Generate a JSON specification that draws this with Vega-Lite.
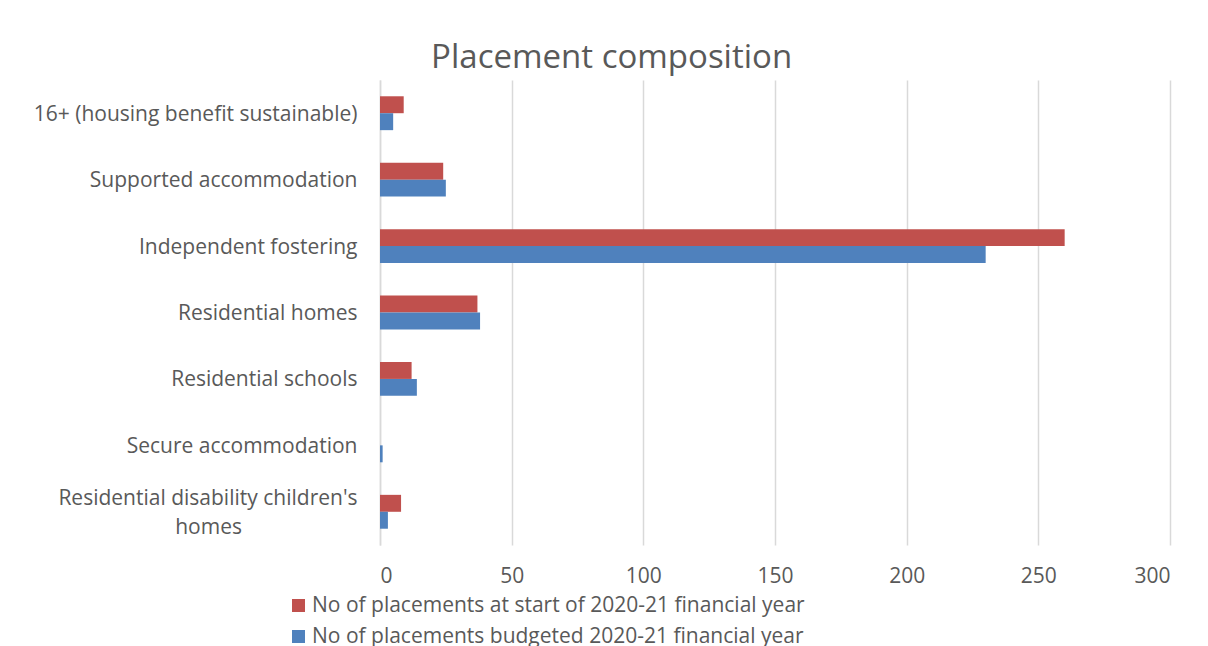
{
  "$schema": "https://vega.github.io/schema/vega-lite/v6.json",
  "width": 790,
  "height": 465,
  "autosize": {"type": "none"},
  "padding": {"left": 380, "top": 80, "right": 38, "bottom": 101},
  "background": "white",
  "title": {
    "text": "Placement composition",
    "font": "Open Sans",
    "fontSize": 33,
    "fontWeight": "normal",
    "color": "#595959",
    "anchor": "middle",
    "frame": "bounds",
    "offset": 5,
    "dx": 10
  },
  "data": {
    "values": [
      {"category": "16+ (housing benefit sustainable)", "series": "No of placements at start of 2020-21 financial year", "value": 9},
      {"category": "16+ (housing benefit sustainable)", "series": "No of placements budgeted 2020-21 financial year", "value": 5},
      {"category": "Supported accommodation", "series": "No of placements at start of 2020-21 financial year", "value": 24},
      {"category": "Supported accommodation", "series": "No of placements budgeted 2020-21 financial year", "value": 25},
      {"category": "Independent fostering", "series": "No of placements at start of 2020-21 financial year", "value": 260},
      {"category": "Independent fostering", "series": "No of placements budgeted 2020-21 financial year", "value": 230},
      {"category": "Residential homes", "series": "No of placements at start of 2020-21 financial year", "value": 37},
      {"category": "Residential homes", "series": "No of placements budgeted 2020-21 financial year", "value": 38},
      {"category": "Residential schools", "series": "No of placements at start of 2020-21 financial year", "value": 12},
      {"category": "Residential schools", "series": "No of placements budgeted 2020-21 financial year", "value": 14},
      {"category": "Secure accommodation", "series": "No of placements at start of 2020-21 financial year", "value": 0},
      {"category": "Secure accommodation", "series": "No of placements budgeted 2020-21 financial year", "value": 1},
      {"category": "Residential disability children's homes", "series": "No of placements at start of 2020-21 financial year", "value": 8},
      {"category": "Residential disability children's homes", "series": "No of placements budgeted 2020-21 financial year", "value": 3}
    ]
  },
  "mark": {"type": "bar"},
  "encoding": {
    "y": {
      "field": "category",
      "type": "nominal",
      "sort": null,
      "title": null,
      "scale": {"paddingInner": 0.49, "paddingOuter": 0.245},
      "axis": {
        "domain": true,
        "domainColor": "#d9d9d9",
        "domainWidth": 1.5,
        "ticks": false,
        "grid": false,
        "labelPadding": 23,
        "labelLimit": 400,
        "labelFont": "Open Sans",
        "labelFontSize": 21,
        "labelColor": "#595959",
        "labelLineHeight": 29,
        "labelOffset": {"condition": {"test": "datum.value == \"Residential disability children's homes\"", "value": -13}, "value": 1.5},
        "labelExpr": "datum.label == \"Residential disability children's homes\" ? [\"Residential disability children's\", \"homes\u2002\u2002\u2002\u2002\u2002\u2002\u2002\u2002\u2002\u2002\u2002\u200b\"] : datum.label"
      }
    },
    "yOffset": {
      "field": "series",
      "type": "nominal",
      "sort": ["No of placements at start of 2020-21 financial year", "No of placements budgeted 2020-21 financial year"],
      "scale": {"paddingInner": 0, "paddingOuter": 0}
    },
    "x": {
      "field": "value",
      "type": "quantitative",
      "title": null,
      "scale": {"domain": [0, 300], "nice": false},
      "axis": {
        "values": [0, 50, 100, 150, 200, 250, 300],
        "domain": false,
        "ticks": false,
        "grid": true,
        "gridColor": "#d9d9d9",
        "gridWidth": 1.5,
        "labelPadding": 20,
        "labelFont": "Open Sans",
        "labelFontSize": 21,
        "labelColor": "#595959"
      }
    },
    "color": {
      "field": "series",
      "type": "nominal",
      "title": null,
      "scale": {
        "domain": ["No of placements at start of 2020-21 financial year", "No of placements budgeted 2020-21 financial year"],
        "range": ["#c0504d", "#4f81bd"]
      },
      "legend": {
        "orient": "none",
        "legendX": -92,
        "legendY": 515,
        "direction": "vertical",
        "symbolType": "square",
        "symbolSize": 170,
        "symbolStrokeWidth": 0,
        "labelFont": "Open Sans",
        "labelFontSize": 21,
        "labelColor": "#595959",
        "labelLimit": 700,
        "rowPadding": 9,
        "labelOffset": 3
      }
    }
  },
  "config": {
    "view": {"stroke": null}
  }
}
